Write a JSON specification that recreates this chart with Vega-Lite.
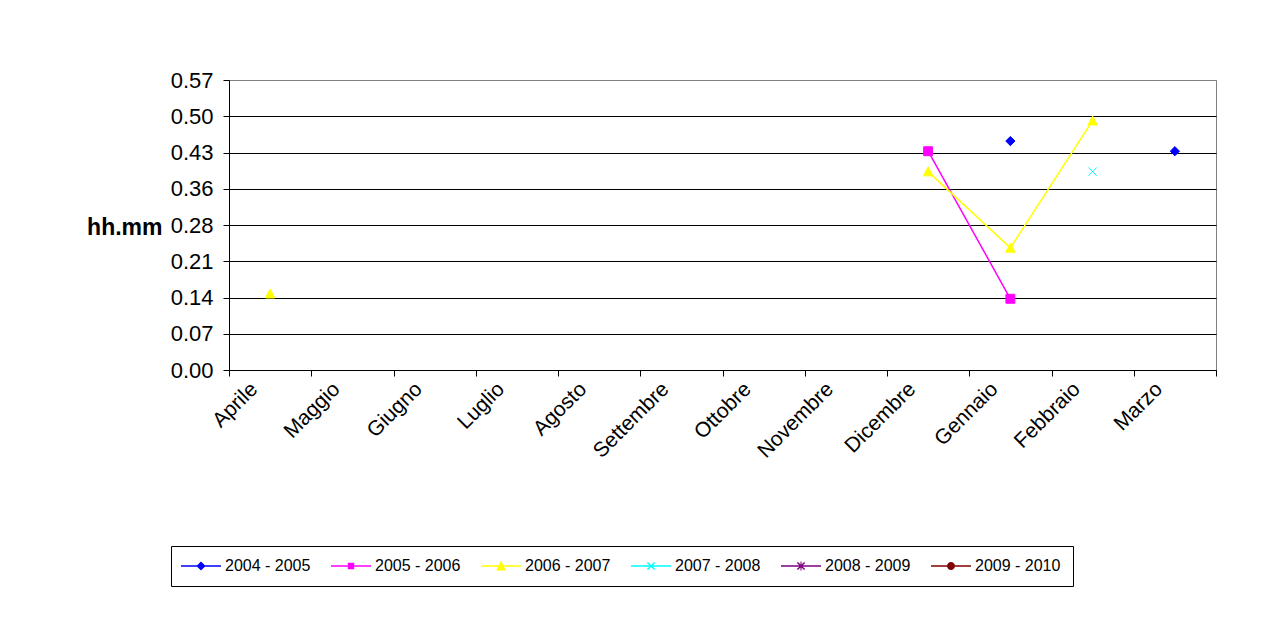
{
  "$schema": "https://vega.github.io/schema/vega-lite/v6.json",
  "width": 987,
  "height": 290,
  "autosize": {"type": "none"},
  "padding": {"left": 229, "top": 80, "right": 53, "bottom": 262},
  "background": "white",
  "config": {
    "font": "Liberation Sans",
    "view": {"stroke": "#808080", "strokeWidth": 1},
    "axis": {
      "labelFont": "Liberation Sans",
      "titleFont": "Liberation Sans",
      "labelColor": "#000",
      "titleColor": "#000",
      "domainColor": "#000",
      "tickColor": "#000",
      "domainWidth": 1,
      "tickWidth": 1
    },
    "legend": {"labelFont": "Liberation Sans"}
  },
  "data": {
    "values": [
      {"season": "2004 - 2005", "month": "Gennaio", "n": 10, "v": 0.45},
      {"season": "2004 - 2005", "month": "Febbraio", "n": 11, "v": null},
      {"season": "2004 - 2005", "month": "Marzo", "n": 12, "v": 0.43},
      {"season": "2005 - 2006", "month": "Dicembre", "n": 9, "v": 0.43},
      {"season": "2005 - 2006", "month": "Gennaio", "n": 10, "v": 0.14},
      {"season": "2006 - 2007", "month": "Aprile", "n": 1, "v": 0.15},
      {"season": "2006 - 2007", "month": "Maggio", "n": 2, "v": null},
      {"season": "2006 - 2007", "month": "Dicembre", "n": 9, "v": 0.39},
      {"season": "2006 - 2007", "month": "Gennaio", "n": 10, "v": 0.24},
      {"season": "2006 - 2007", "month": "Febbraio", "n": 11, "v": 0.49},
      {"season": "2007 - 2008", "month": "Febbraio", "n": 11, "v": 0.39}
    ]
  },
  "encoding": {
    "x": {
      "field": "month",
      "type": "ordinal",
      "scale": {
        "type": "band",
        "domain": ["Aprile", "Maggio", "Giugno", "Luglio", "Agosto", "Settembre", "Ottobre", "Novembre", "Dicembre", "Gennaio", "Febbraio", "Marzo"],
        "paddingInner": 0,
        "paddingOuter": 0
      },
      "axis": {
        "title": null,
        "grid": false,
        "tickBand": "extent",
        "tickSize": 6,
        "labelAngle": -45,
        "labelAlign": "right",
        "labelBaseline": "top",
        "labelFontSize": 21,
        "labelOffset": -24,
        "labelPadding": 2
      }
    },
    "y": {
      "field": "v",
      "type": "quantitative",
      "scale": {"domain": [0, 0.57], "nice": false, "zero": true},
      "axis": {
        "values": [0, 0.07125, 0.1425, 0.21375, 0.285, 0.35625, 0.4275, 0.49875, 0.57],
        "labelExpr": "['0.00','0.07','0.14','0.21','0.28','0.36','0.43','0.50','0.57'][round(datum.value / 0.07125)]",
        "grid": true,
        "gridColor": {"condition": {"test": "datum.value > 0.56", "value": "#808080"}, "value": "#000"},
        "gridWidth": 1,
        "tickSize": 6,
        "labelPadding": 10,
        "labelFontSize": 22,
        "title": "hh.mm",
        "titleFontSize": 23,
        "titleFontWeight": "bold",
        "titleAngle": 0,
        "titleAlign": "right",
        "titleBaseline": "middle",
        "titleX": -67,
        "titleY": 147
      }
    }
  },
  "resolve": {"scale": {"shape": "independent", "color": "independent"}},
  "layer": [
    {
      "mark": {"type": "line", "strokeWidth": 1.5},
      "encoding": {
        "order": {"field": "n", "type": "quantitative"},
        "color": {
          "field": "season",
          "type": "nominal",
          "scale": {
            "domain": ["2004 - 2005", "2005 - 2006", "2006 - 2007", "2007 - 2008", "2008 - 2009", "2009 - 2010"],
            "range": ["#0000FF", "#FF00FF", "#FFFF00", "#00FFFF", "#800080", "#800000"]
          },
          "legend": null
        }
      }
    },
    {
      "mark": {"type": "point", "filled": true, "opacity": 1},
      "encoding": {
        "color": {
          "field": "season",
          "type": "nominal",
          "scale": {
            "domain": ["2004 - 2005", "2005 - 2006", "2006 - 2007", "2007 - 2008", "2008 - 2009", "2009 - 2010"],
            "range": ["#0000FF", "#FF00FF", "#FFFF00", "#00FFFF", "#800080", "#800000"]
          },
          "legend": null
        },
        "shape": {
          "field": "season",
          "type": "nominal",
          "scale": {
            "domain": ["2004 - 2005", "2005 - 2006", "2006 - 2007", "2007 - 2008", "2008 - 2009", "2009 - 2010"],
            "range": ["diamond", "square", "M0,-1.1L1.1,1L-1.1,1Z", "M-1,-1L1,1M-1,1L1,-1", "M-1,-1L1,1M-1,1L1,-1M0,-1.2L0,1.2", "circle"]
          },
          "legend": null
        },
        "size": {
          "field": "season",
          "type": "nominal",
          "scale": {
            "domain": ["2004 - 2005", "2005 - 2006", "2006 - 2007", "2007 - 2008", "2008 - 2009", "2009 - 2010"],
            "range": [85, 56, 64, 64, 64, 64]
          },
          "legend": null
        },
        "stroke": {
          "field": "season",
          "type": "nominal",
          "scale": {
            "domain": ["2004 - 2005", "2005 - 2006", "2006 - 2007", "2007 - 2008", "2008 - 2009", "2009 - 2010"],
            "range": ["#0000FF", "#FF00FF", "#FFFF00", "#00FFFF", "#800080", "#800000"]
          },
          "legend": null
        },
        "strokeWidth": {
          "field": "season",
          "type": "nominal",
          "scale": {
            "domain": ["2004 - 2005", "2005 - 2006", "2006 - 2007", "2007 - 2008", "2008 - 2009", "2009 - 2010"],
            "range": [1, 1, 1, 2, 2, 1]
          },
          "legend": null
        }
      }
    },
    {
      "mark": {"type": "point", "filled": true, "opacity": 0},
      "encoding": {
        "color": {
          "field": "season",
          "type": "nominal",
          "scale": {
            "domain": ["2004 - 2005", "2005 - 2006", "2006 - 2007", "2007 - 2008", "2008 - 2009", "2009 - 2010"],
            "range": ["#0000FF", "#FF00FF", "#FFFF00", "#00FFFF", "#800080", "#800000"]
          },
          "legend": {
            "title": null,
            "orient": "none",
            "legendX": -58,
            "legendY": 466,
            "direction": "horizontal",
            "columns": 6,
            "padding": 12,
            "columnPadding": 20,
            "labelFontSize": 16,
            "labelColor": "#000",
            "labelOffset": 16,
            "symbolSize": 64,
            "symbolOffset": 10,
            "symbolOpacity": 1,
            "symbolFillColor": "#000",
            "symbolStrokeWidth": 0,
            "strokeColor": "#000"
          }
        },
        "shape": {
          "field": "season",
          "type": "nominal",
          "scale": {
            "domain": ["2004 - 2005", "2005 - 2006", "2006 - 2007", "2007 - 2008", "2008 - 2009", "2009 - 2010"],
            "range": [
              "M-5,-0.16L5,-0.16L5,0.16L-5,0.16ZM0,-1.15L1.15,0L0,1.15L-1.15,0Z",
              "M-5,-0.16L5,-0.16L5,0.16L-5,0.16ZM-0.8,-0.8L0.8,-0.8L0.8,0.8L-0.8,0.8Z",
              "M-5,-0.16L5,-0.16L5,0.16L-5,0.16ZM0,-1.35L1.2,1.1L-1.2,1.1Z",
              "M-5,-0.16L5,-0.16L5,0.16L-5,0.16ZM-0.77,-1.03L1.03,0.77L0.77,1.03L-1.03,-0.77ZM-0.77,1.03L-1.03,0.77L0.77,-1.03L1.03,-0.77Z",
              "M-5,-0.16L5,-0.16L5,0.16L-5,0.16ZM-0.77,-1.03L1.03,0.77L0.77,1.03L-1.03,-0.77ZM-0.77,1.03L-1.03,0.77L0.77,-1.03L1.03,-0.77ZM-0.13,-1.1L0.13,-1.1L0.13,1.1L-0.13,1.1Z",
              "M-5,-0.16L5,-0.16L5,0.16L-5,0.16ZM-1,0A1,1,0,1,1,1,0A1,1,0,1,1,-1,0Z"
            ]
          },
          "legend": {
            "title": null,
            "orient": "none",
            "legendX": -58,
            "legendY": 466,
            "direction": "horizontal",
            "columns": 6,
            "padding": 12,
            "columnPadding": 20,
            "labelFontSize": 16,
            "labelColor": "#000",
            "labelOffset": 16,
            "symbolSize": 64,
            "symbolOffset": 10,
            "symbolOpacity": 1,
            "symbolFillColor": "#000",
            "symbolStrokeWidth": 0,
            "strokeColor": "#000"
          }
        }
      }
    }
  ]
}
